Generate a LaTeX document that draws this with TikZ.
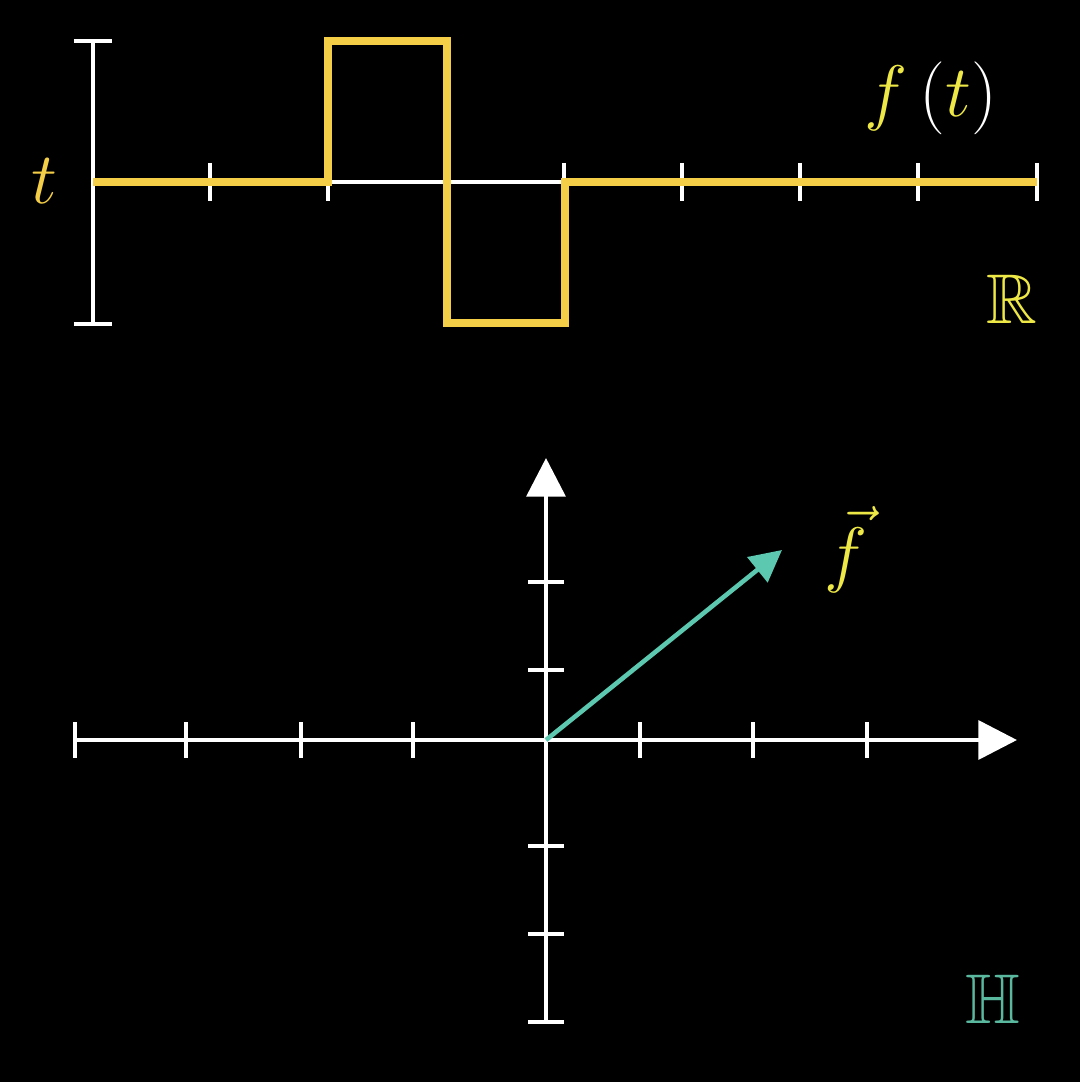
\documentclass[tikz,border=0pt]{standalone}
\usepackage{amssymb}
\usetikzlibrary{arrows.meta}
\definecolor{wavegold}{RGB}{244,206,70}
\definecolor{labelyellow}{RGB}{238,232,70}
\definecolor{vecteal}{RGB}{92,200,176}
\definecolor{spaceteal}{RGB}{90,184,158}
\tikzset{
  axisline/.style={white, line width=1.3pt},
  tickmark/.style={white, line width=1.2pt},
  lbl/.style={font=\fontsize{20}{24}\selectfont, inner sep=0pt, anchor=base},
}
\begin{document}
\begin{tikzpicture}[x=0.01cm, y=-0.01cm, >={Triangle[length=11pt,width=11pt]}]
  \fill[black] (0,0) rectangle (1080,1082);
  \useasboundingbox (0,0) rectangle (1080,1082);
  % top: the real line
  \coordinate (rtop) at (93,41);
  \coordinate (rbot) at (93,324);
  \coordinate (rstart) at (93,182);
  \coordinate (rend) at (1037,182);
  \draw[axisline] (rtop) -- (rbot);
  \draw[axisline] ([xshift=-0.19cm]rtop) -- ([xshift=0.19cm]rtop);
  \draw[axisline] ([xshift=-0.19cm]rbot) -- ([xshift=0.19cm]rbot);
  \draw[axisline] (rstart) -- (rend);
  \foreach \x in {210,328,446,564,682,800,918,1037}
    \draw[tickmark] (\x,163) -- (\x,201);
  % square wave
  \draw[wavegold, line width=2pt] (rstart) -- (328,182) -- (328,41) -- (447,41)
    -- (447,323) -- (565,323) -- (565,182) -- (rend);
  \node[lbl, text=wavegold] (tlabel) at (44,203) {$t$};
  \node[lbl] (flabel) at (931,117)
    {$\color{labelyellow}f\,\color{white}(\color{labelyellow}t\color{white})$};
  \node[lbl, text=labelyellow] (rlabel) at (1012,323) {$\mathbb{R}$};
  % bottom: the space H
  \coordinate (origin) at (546,740);
  \coordinate (xleft) at (75,740);
  \coordinate (xright) at (1017,740);
  \coordinate (ylow) at (546,1022);
  \coordinate (yhigh) at (546,458);
  \coordinate (fhead) at (782,550);
  \draw[axisline, ->] (xleft) -- (xright);
  \draw[axisline, ->] (ylow) -- (yhigh);
  \foreach \x in {75,186,301,413,640,753,867}
    \draw[tickmark] (\x,722) -- (\x,758);
  \foreach \y in {582,670,846,934,1022}
    \draw[tickmark] (528,\y) -- (564,\y);
  \draw[vecteal, line width=1.3pt, -{Triangle[length=9pt,width=9pt]}] (origin) -- (fhead);
  \node[lbl, text=labelyellow] (fveclabel) at (846,578) {$\vec{f}$};
  \node[lbl, text=spaceteal] (hlabel) at (993,1023) {$\mathbb{H}$};
\end{tikzpicture}
\end{document}
